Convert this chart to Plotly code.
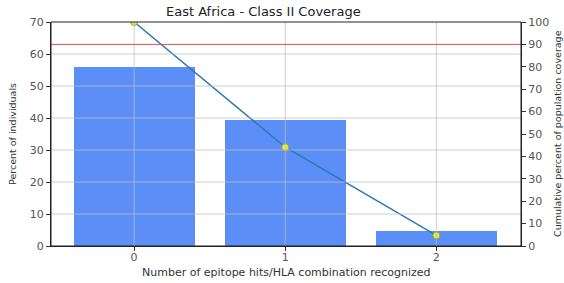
import plotly.graph_objects as go

categories = [0, 1, 2]
percent_individuals = [55.9, 39.4, 4.7]
cumulative_coverage = [100.0, 44.1, 4.7]
left_ticks = [0, 10, 20, 30, 40, 50, 60, 70]
right_ticks = [0, 10, 20, 30, 40, 50, 60, 70, 80, 90, 100]
threshold = 90

font = "DejaVu Sans"
fig = go.Figure()
fig.add_trace(go.Bar(x=categories, y=percent_individuals, width=0.8,
                     marker=dict(color="#5B8EF7", line=dict(width=0)), yaxis="y"))
fig.add_trace(go.Scatter(x=categories, y=cumulative_coverage, yaxis="y2", mode="lines+markers",
                         line=dict(color="#2E78B4", width=1.5),
                         marker=dict(size=7, color="#E6F03C", line=dict(color="#9AA235", width=1))))

shapes = []
for t in left_ticks[1:-1]:
    shapes.append(dict(type="line", xref="paper", x0=0, x1=1, yref="y", y0=t, y1=t,
                       line=dict(color="rgba(190,190,190,0.75)", width=1), layer="above"))
for c in categories:
    shapes.append(dict(type="line", xref="x", x0=c, x1=c, yref="paper", y0=0, y1=1,
                       line=dict(color="rgba(190,190,190,0.75)", width=1), layer="above"))
shapes.append(dict(type="line", xref="paper", x0=0, x1=1, yref="y2", y0=threshold, y1=threshold,
                   line=dict(color="#D9534F", width=1), layer="above"))
shapes.append(dict(type="rect", xref="paper", yref="paper", x0=0, x1=1, y0=0, y1=1,
                   line=dict(color="#222", width=1), layer="above"))

annotations = [
    dict(text="East Africa - Class II Coverage", xref="paper", yref="paper",
         x=(263 - 51) / 470, y=1 + 11 / 224, xanchor="center", yanchor="middle",
         showarrow=False, font=dict(size=13, color="#222")),
    dict(text="Number of epitope hits/HLA combination recognized", xref="paper", yref="paper",
         x=0.5, y=-26 / 224, xanchor="center", yanchor="middle",
         showarrow=False, font=dict(size=11, color="#333")),
    dict(text="Percent of individuals", xref="paper", yref="paper",
         x=-39 / 470, y=0.5, xanchor="center", yanchor="middle", textangle=-90,
         showarrow=False, font=dict(size=9.5, color="#333")),
    dict(text="Cumulative percent of population coverage", xref="paper", yref="paper",
         x=1 + 36 / 470, y=0.5, xanchor="center", yanchor="middle", textangle=-90,
         showarrow=False, font=dict(size=9.5, color="#333")),
]

axis_common = dict(showgrid=False, zeroline=False, ticks="outside", ticklen=4, tickcolor="#333",
                   showline=True, linecolor="#222", tickfont=dict(size=11, color="#555"),
                   automargin=False)

fig.update_layout(
    width=564, height=283,
    margin=dict(l=51, r=43, t=22, b=37, autoexpand=False),
    paper_bgcolor="white", plot_bgcolor="white",
    showlegend=False,
    font=dict(family=font, size=10, color="#333"),
    bargap=0,
    shapes=shapes,
    annotations=annotations,
    xaxis=dict(range=[-0.55, 2.56], tickvals=categories, ticktext=[str(c) for c in categories],
               ticklabelstandoff=-3, **axis_common),
    yaxis=dict(range=[0, 70], tickvals=left_ticks, **axis_common),
    yaxis2=dict(range=[0, 100], tickvals=right_ticks, overlaying="y", side="right", **axis_common),
)
fig.write_html("out.html", config={"displayModeBar": False},
               post_script="document.body.style.margin='0';document.body.style.padding='0';")
